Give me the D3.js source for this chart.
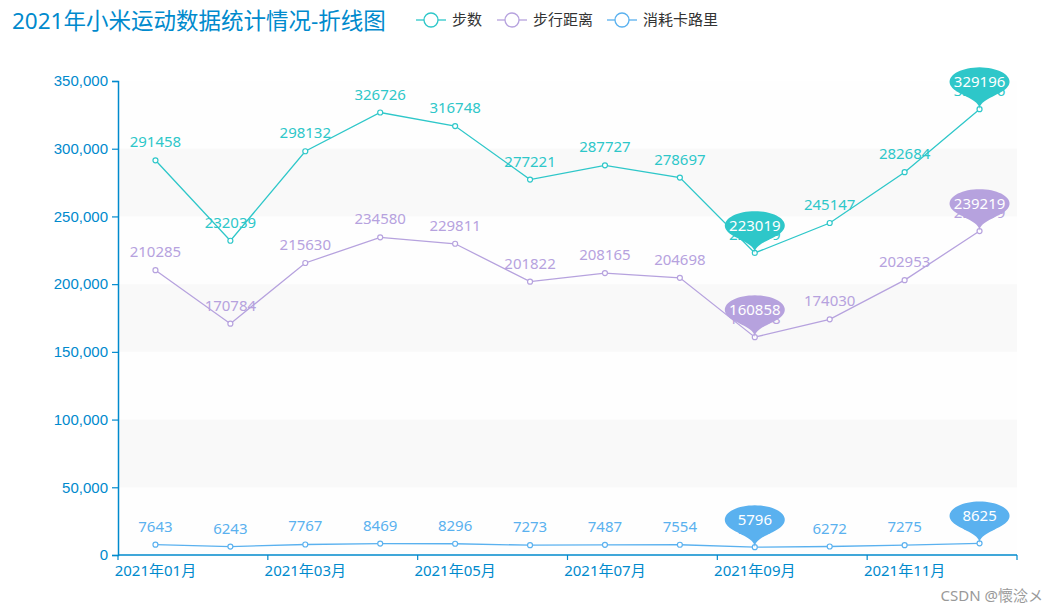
<!DOCTYPE html>
<html lang="zh">
<head>
    <meta charset="UTF-8">
    <title>2021年小米运动数据统计情况-折线图</title>
    <script src="https://d3js.org/d3.v7.min.js"></script>
    <style>
        body { margin: 0; background: #fff; }
        svg { font-family: "Noto Sans", "Noto Sans CJK SC", sans-serif; }
    </style>
</head>
<body>
<svg id="chart" width="1056" height="614"></svg>
<script>
    // data
    const months = ["2021年01月", "2021年02月", "2021年03月", "2021年04月", "2021年05月", "2021年06月",
                    "2021年07月", "2021年08月", "2021年09月", "2021年10月", "2021年11月", "2021年12月"];
    const steps = [291458, 232039, 298132, 326726, 316748, 277221, 287727, 278697, 223019, 245147, 282684, 329196];
    const distance = [210285, 170784, 215630, 234580, 229811, 201822, 208165, 204698, 160858, 174030, 202953, 239219];
    const calories = [7643, 6243, 7767, 8469, 8296, 7273, 7487, 7554, 5796, 6272, 7275, 8625];
    const yTicks = [0, 50000, 100000, 150000, 200000, 250000, 300000, 350000];

    const series = [
        { name: "步数", values: steps, color: "#2ec7c9" },
        { name: "步行距离", values: distance, color: "#b6a2de" },
        { name: "消耗卡路里", values: calories, color: "#5ab1ef" }
    ];

    const svg = d3.select("#chart");
    const axisColor = "#008acd";
    const margin = { top: 81, right: 39, bottom: 59, left: 118 };
    const W = +svg.attr("width"), H = +svg.attr("height");

    const x = d3.scaleBand().domain(months).range([margin.left, W - margin.right]);
    const y = d3.scaleLinear().domain([0, 350000]).range([H - margin.bottom, margin.top]);
    const cx = d => x(d) + x.bandwidth() / 2;

    // alternating split areas
    svg.append("g").selectAll("rect")
        .data(yTicks.slice(0, -1))
        .enter().append("rect")
        .attr("x", margin.left)
        .attr("y", d => y(d + 50000))
        .attr("width", W - margin.right - margin.left)
        .attr("height", d => y(d) - y(d + 50000))
        .attr("fill", (d, i) => i % 2 ? "rgba(200,200,200,0.1)" : "rgba(250,250,250,0.1)");

    // y axis
    const yAxis = svg.append("g")
        .attr("transform", `translate(${margin.left},0)`)
        .call(d3.axisLeft(y).tickValues(yTicks).tickSize(6).tickPadding(4).tickFormat(d3.format(",")));
    yAxis.select(".domain").attr("stroke", axisColor).attr("stroke-width", 1.5);
    yAxis.selectAll(".tick line").attr("stroke", axisColor).attr("stroke-width", 1.2);
    yAxis.selectAll("text").attr("fill", axisColor).attr("font-size", "15px")
        .attr("font-family", null);

    // x axis, ticks on category boundaries every 2 categories
    const xg = svg.append("g").attr("transform", `translate(0,${H - margin.bottom})`);
    xg.append("line")
        .attr("x1", margin.left).attr("x2", W - margin.right)
        .attr("stroke", axisColor).attr("stroke-width", 1.5);
    const tickXs = months.filter((m, i) => i % 2 === 0).map(m => x(m)).concat([W - margin.right]);
    xg.selectAll(".xt").data(tickXs).enter().append("line")
        .attr("x1", d => d).attr("x2", d => d).attr("y1", 0).attr("y2", 5)
        .attr("stroke", axisColor).attr("stroke-width", 1.2);
    xg.selectAll(".xl").data(months.filter((m, i) => i % 2 === 0)).enter().append("text")
        .attr("x", d => cx(d)).attr("y", 21)
        .attr("text-anchor", "middle")
        .attr("font-size", "15px")
        .attr("fill", axisColor)
        .text(d => d);

    // pin symbol (echarts style) with tip at (0,0)
    function pinPath(sx, sy) {
        const r = 0.6, h = 2, yb = 1;
        const dy = r * r / (h - r);
        const cyy = yb - h + r + dy;
        const ang = Math.asin(dy / r);
        const dx = Math.cos(ang) * r;
        const tx = Math.sin(ang), ty = Math.cos(ang);
        const c1 = r * 0.6, c2 = r * 0.7;
        const p = d3.path();
        const X = u => u * sx, Y = v => (v - yb) * sy;
        const start = Math.PI - ang, end = Math.PI * 2 + ang;
        p.moveTo(X(-dx), Y(cyy + dy));
        for (let k = 1; k <= 40; k++) {
            const a = start + (end - start) * k / 40;
            p.lineTo(X(Math.cos(a) * r), Y(cyy + Math.sin(a) * r));
        }
        p.bezierCurveTo(X(dx - tx * c1), Y(cyy + dy + ty * c1), X(0), Y(yb - c2), X(0), Y(yb));
        p.bezierCurveTo(X(0), Y(yb - c2), X(-dx + tx * c1), Y(cyy + dy + ty * c1), X(-dx), Y(cyy + dy));
        p.closePath();
        return { d: p.toString(), cy: Y(cyy) };
    }

    const line = d3.line().x((d, i) => cx(months[i])).y(d => y(d));

    series.forEach(s => {
        const g = svg.append("g");
        g.append("path")
            .datum(s.values)
            .attr("fill", "none")
            .attr("stroke", s.color)
            .attr("stroke-width", 1.3)
            .attr("d", line);

        g.selectAll("circle").data(s.values).enter().append("circle")
            .attr("cx", (d, i) => cx(months[i]))
            .attr("cy", d => y(d))
            .attr("r", 2.5)
            .attr("fill", "#fff")
            .attr("stroke", s.color)
            .attr("stroke-width", 1.2);

        g.selectAll(".lbl").data(s.values).enter().append("text")
            .attr("x", (d, i) => cx(months[i]))
            .attr("y", d => y(d) - 13)
            .attr("text-anchor", "middle")
            .attr("font-size", "15px")
            .attr("fill", s.color)
            .text(d => d);
    });

    // mark points (max & min) drawn on top
    series.forEach(s => {
        const maxI = s.values.indexOf(d3.max(s.values));
        const minI = s.values.indexOf(d3.min(s.values));
        const pin = pinPath(50, 24);
        svg.append("g").selectAll("g").data([maxI, minI]).enter().append("g")
            .attr("transform", i => `translate(${cx(months[i])},${y(s.values[i])})`)
            .each(function (i) {
                const pg = d3.select(this);
                pg.append("path").attr("d", pin.d).attr("fill", s.color);
                pg.append("text")
                    .attr("y", pin.cy)
                    .attr("dy", "0.35em")
                    .attr("text-anchor", "middle")
                    .attr("font-size", "15px")
                    .attr("fill", "#fff")
                    .text(s.values[i]);
            });
    });

    // title
    svg.append("text")
        .attr("x", 12).attr("y", 29)
        .attr("font-size", "22.5px")
        .attr("fill", axisColor)
        .text("2021年小米运动数据统计情况-折线图");

    // legend
    const legendX = [416, 497, 607];
    const lg = svg.append("g").selectAll("g").data(series).enter().append("g")
        .attr("transform", (d, i) => `translate(${legendX[i]},20)`);
    lg.append("line").attr("x1", 0).attr("x2", 30).attr("stroke", d => d.color).attr("stroke-width", 1.3);
    lg.append("circle").attr("cx", 15).attr("r", 7).attr("fill", "#fff").attr("stroke", d => d.color).attr("stroke-width", 1.3);
    lg.append("text").attr("x", 36).attr("dy", "0.35em").attr("font-size", "15px").attr("fill", "#333").text(d => d.name);

    // watermark
    svg.append("text")
        .attr("x", 1043).attr("y", 601)
        .attr("text-anchor", "end")
        .attr("font-size", "15px")
        .attr("fill", "#999")
        .text("CSDN @懷淰メ");
</script>
</body>
</html>
